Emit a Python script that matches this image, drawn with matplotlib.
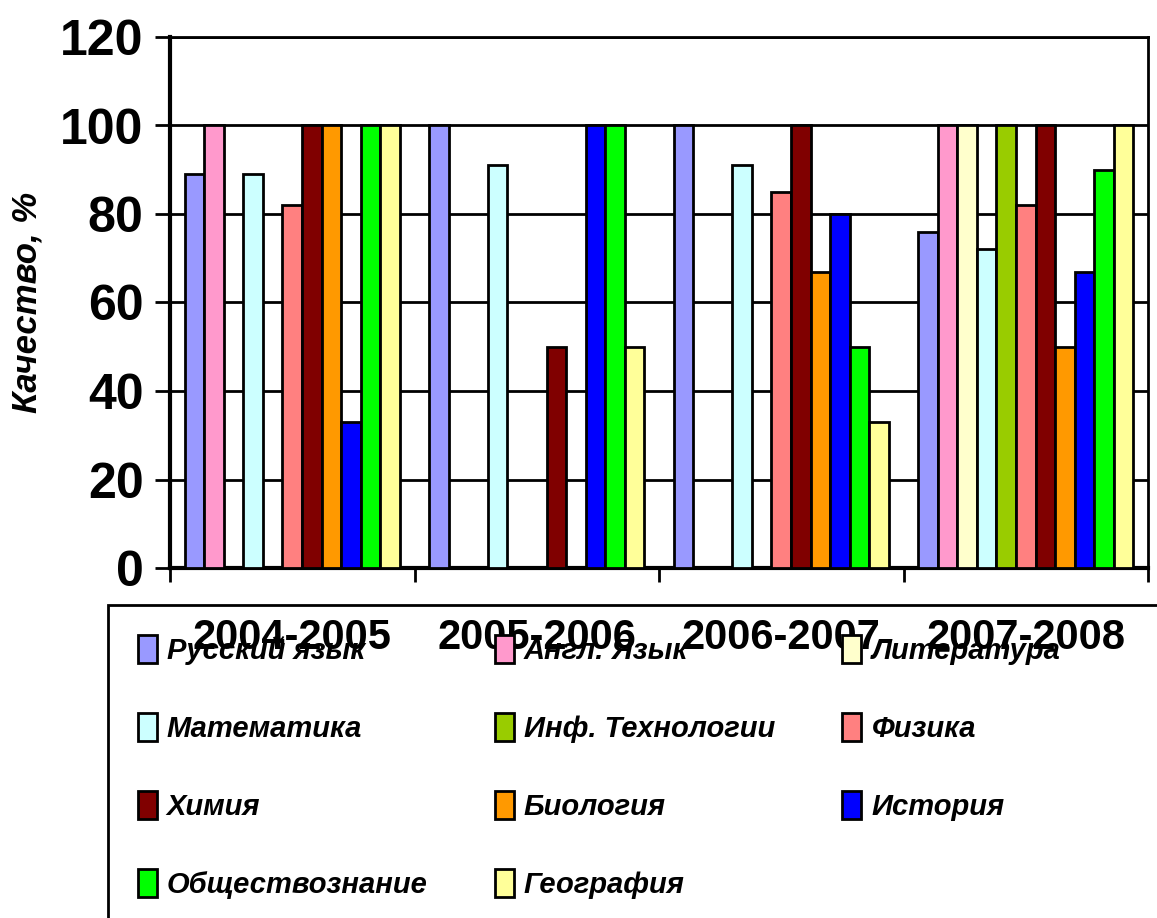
import matplotlib
matplotlib.use("Agg")
import matplotlib.pyplot as plt
from matplotlib.patches import Rectangle
import numpy as np

years = ["2004-2005", "2005-2006", "2006-2007", "2007-2008"]
subjects = ["Русский язык", "Англ. Язык", "Литература", "Математика",
            "Инф. Технологии", "Физика", "Химия", "Биология", "История",
            "Обществознание", "География"]
colors = ["#9999FF", "#FF99CC", "#FFFFCC", "#CCFFFF", "#99CC00", "#FF8080",
          "#800000", "#FF9900", "#0000FF", "#00FF00", "#FFFF99"]
# quality per subject, one value per school year (0 = no bar)
values = {
    "Русский язык":    [89, 100, 100, 76],
    "Англ. Язык":      [100, 0, 0, 100],
    "Литература":      [0, 0, 0, 100],
    "Математика":      [89, 91, 91, 72],
    "Инф. Технологии": [0, 0, 0, 100],
    "Физика":          [82, 0, 85, 82],
    "Химия":           [100, 50, 100, 100],
    "Биология":        [100, 0, 67, 50],
    "История":         [33, 100, 80, 67],
    "Обществознание":  [100, 100, 50, 90],
    "География":       [100, 50, 33, 100],
}

plt.rcParams['font.family'] = ['Liberation Sans', 'DejaVu Sans']

W, H = 1157, 918
fig = plt.figure(figsize=(W / 100, H / 100), dpi=100)
ax = fig.add_axes([170 / W, 1 - 568 / H, (1148 - 170) / W, (568 - 37) / H])

n = len(subjects)
bw = 1 / (n + 1.5)
x = np.arange(len(years))
for i, s in enumerate(subjects):
    v = np.array(values[s], dtype=float)
    v[v == 0] = np.nan
    ax.bar(x - 0.5 + bw * (0.75 + i + 0.5), v, width=bw, color=colors[i],
           edgecolor="black", linewidth=2, label=s, zorder=3)

ax.set_xlim(-0.5, len(years) - 0.5)
ax.set_ylim(0, 120)
ax.set_yticks(range(0, 121, 20))
ax.yaxis.grid(True, color="black", linewidth=2, zorder=0)
ax.set_xticks(np.arange(len(years) + 1) - 0.5)
ax.set_xticklabels([])
ax.set_xticks(x, minor=True)
ax.set_xticklabels(years, minor=True, fontsize=30, fontweight="bold")
ax.tick_params(axis="x", which="major", length=10, width=2, direction="out")
ax.tick_params(axis="x", which="minor", length=0, pad=36)
ax.tick_params(axis="y", length=11, width=2, pad=8, labelsize=36)
for lab in ax.get_yticklabels():
    lab.set_fontweight("bold")
for sp in ax.spines.values():
    sp.set_linewidth(2)
ax.spines["left"].set_linewidth(3)
ax.spines["bottom"].set_linewidth(3)
ax.set_ylabel("Качество, %", fontsize=25, fontweight="bold", style="italic",
              labelpad=12)

# legend frame running off the page edge
fig.patches.append(Rectangle((108 / W, -0.1), 1.0, 1 - 605 / H + 0.1,
                             transform=fig.transFigure, fill=False,
                             edgecolor="black", linewidth=2))
handles, labels = ax.get_legend_handles_labels()
order = [0, 3, 6, 9, 1, 4, 7, 10, 2, 5, 8]
fig.legend([handles[k] for k in order], [labels[k] for k in order],
           loc="upper left", bbox_to_anchor=(126 / W, 1 - 623 / H), ncol=3,
           frameon=False, prop={"size": 21, "weight": "bold", "style": "italic"},
           handlelength=0.65, handleheight=1.1, handletextpad=0.35,
           columnspacing=2.3, labelspacing=1.65, borderaxespad=0)

fig.savefig("out.png", dpi=100)
